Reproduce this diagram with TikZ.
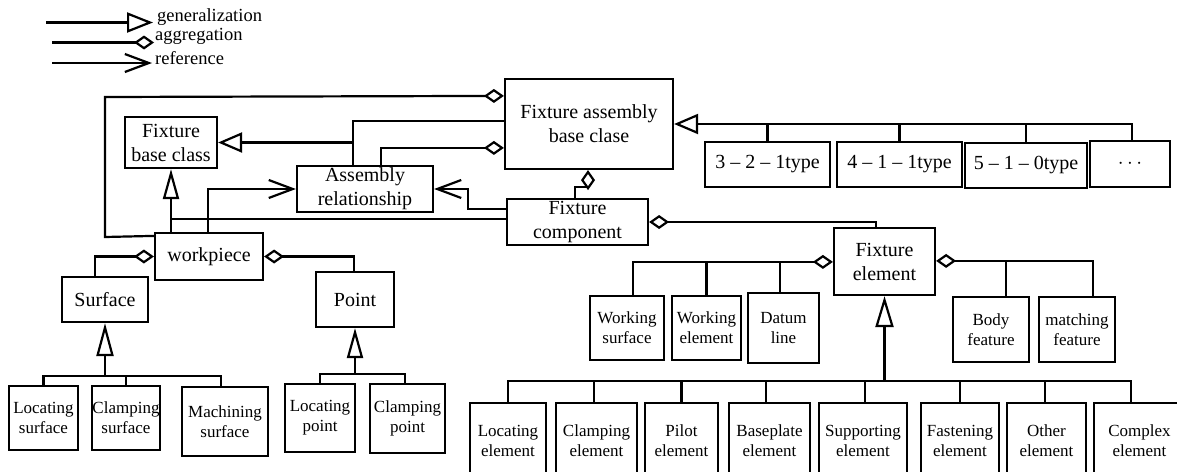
\documentclass[tikz,border=0pt]{standalone}
\usepackage{fontspec}
\setmainfont{Liberation Serif}
\usetikzlibrary{arrows.meta}
\begin{document}
\begin{tikzpicture}[x=1pt,y=-1pt,
  box/.style={draw, line width=2.2pt, inner sep=0pt, align=center},
  big/.style={font=\fontsize{20}{24}\selectfont},
  small/.style={font=\fontsize{17}{20}\selectfont},
  legend/.style={font=\fontsize{18.5}{22}\selectfont, inner sep=0pt},
  conn/.style={line width=2.2pt},
  gen/.style 2 args={conn,-{Triangle[open,fill=white,length=#1,width=#2]}},
  agg/.style={conn,-{Diamond[open,fill=white,length=20pt,width=14pt]}},
  ref/.style={conn,-{Straight Barb[length=24pt,width=18pt]}}]
\useasboundingbox (0,0) rectangle (1177,471);

% legend
\coordinate (g1) at (46,22.5);  \coordinate (g2) at (153,22.5);
\coordinate (a1) at (52,42.5);  \coordinate (a2) at (154,42.5);
\coordinate (r1) at (52,63);    \coordinate (r2) at (152,63);
\draw[gen={26pt}{20pt}] (g1) -- (g2);
\draw[agg] (a1) -- (a2);
\draw[ref] (r1) -- (r2);
\node[legend, anchor=base west] (lg) at (157,21) {generalization};
\node[legend, anchor=base west] (la) at (155,40.5) {aggregation};
\node[legend, anchor=base west] (lr) at (155,64) {reference};

% main nodes
\node[box,big,minimum width=168,minimum height=90] (fabc) at (589,124) {Fixture assembly\\base clase};
\node[box,big,minimum width=92,minimum height=51] (fbc) at (171,142.5) {Fixture\\base class};
\node[box,big,minimum width=136,minimum height=46] (ar) at (365,189) {Assembly\\relationship};
\node[box,big,minimum width=141,minimum height=46] (fc) at (577.5,222) {Fixture\\component};
\node[box,big,minimum width=108,minimum height=47] (wp) at (209,256.5) {workpiece};
\node[box,big,minimum width=86,minimum height=45] (sf) at (105,299.5) {Surface};
\node[box,big,minimum width=78,minimum height=55] (pt) at (355,299.5) {Point};
\node[box,big,minimum width=101,minimum height=67] (fe) at (884.5,261.5) {Fixture\\element};

% type boxes
\node[box,big,minimum width=125,minimum height=45] (t321) at (767.5,164.5) {3 – 2 – 1type};
\node[box,big,minimum width=125,minimum height=45] (t411) at (899.5,164.5) {4 – 1 – 1type};
\node[box,big,minimum width=122,minimum height=45] (t510) at (1026,165.5) {5 – 1 – 0type};
\node[box,big,minimum width=80,minimum height=46] (tdots) at (1130,164) {$\cdots$};

% workpiece parts
\node[box,small,minimum width=69,minimum height=64] (ls) at (43.5,418) {Locating\\surface};
\node[box,small,minimum width=68,minimum height=64] (cs) at (126,418) {Clamping\\surface};
\node[box,small,minimum width=86,minimum height=69] (ms) at (225,421.5) {Machining\\surface};
\node[box,small,minimum width=70,minimum height=68] (lp) at (320,418) {Locating\\point};
\node[box,small,minimum width=75,minimum height=69] (cp) at (407.5,418.5) {Clamping\\point};

% fixture element parts
\node[box,small,minimum width=74,minimum height=64] (ws) at (627,328) {Working\\surface};
\node[box,small,minimum width=69,minimum height=64] (we) at (706.5,328) {Working\\element};
\node[box,small,minimum width=71,minimum height=70] (dl) at (783.5,328) {Datum\\line};
\node[box,small,minimum width=76,minimum height=65] (bf) at (991,329.5) {Body\\feature};
\node[box,small,minimum width=76,minimum height=65] (mf) at (1077,329.5) {matching\\feature};

% element kinds (bottom row)
\node[box,small,minimum width=76,minimum height=75] (le) at (508,440.5) {Locating\\element};
\node[box,small,minimum width=81,minimum height=75] (ce) at (596.5,440.5) {Clamping\\element};
\node[box,small,minimum width=73,minimum height=75] (pe) at (681.5,440.5) {Pilot\\element};
\node[box,small,minimum width=81,minimum height=75] (be) at (769.5,440.5) {Baseplate\\element};
\node[box,small,minimum width=88,minimum height=75] (se) at (863,440.5) {Supporting\\element};
\node[box,small,minimum width=78,minimum height=75] (fse) at (960,440.5) {Fastening\\element};
\node[box,small,minimum width=79,minimum height=75] (oe) at (1046.5,440.5) {Other\\element};
\node[box,small,minimum width=91,minimum height=75] (cxe) at (1139.5,440.5) {Complex\\element};

% ---- connectors ----
% outer aggregation workpiece -> fixture assembly
\draw[agg] ([yshift=-4pt]wp.north west) -- (105,237) -- (105,97) -- ([yshift=-18pt]fabc.north west);
% generalization fixture assembly / assembly relationship -> fixture base class
\coordinate (arj) at (353,142.5);
\draw[gen={24pt}{20pt}] ([yshift=-43pt]fabc.north west) -| (arj) -- (fbc.east);
\draw[conn] ([xshift=-12pt]ar.north) -- (arj);
% aggregation assembly relationship -> fixture assembly
\draw[agg] ([xshift=16pt]ar.north) |- ([yshift=-70pt]fabc.north west);
% aggregation fixture component -> fixture assembly
\draw[agg] ([xshift=-2.5pt]fc.north) |- (588,187) -- ([xshift=-1pt]fabc.south);
% aggregation fixture element -> fixture component
\draw[agg] ([xshift=-8.5pt]fe.north) |- (fc.east);
% generalization fixture component / workpiece -> fixture base class
\coordinate (fcg) at ([yshift=-21pt]fc.north west);
\draw[gen={30pt}{16pt}] (fcg) -| (fbc.south);
\draw[conn] ([xshift=-38pt]wp.north) -- ([xshift=-38pt]wp.north |- fcg);
% references to assembly relationship
\draw[ref] ([xshift=-1pt]wp.north) |- (ar.west);
\draw[ref] ([yshift=-11pt]fc.north west) -| (468,189) -- (ar.east);
% workpiece aggregations
\draw[agg] ([xshift=-10pt]sf.north) |- (wp.west);
\draw[agg] ([xshift=-1pt]pt.north) |- (wp.east);
% surface tree
\coordinate (sbus) at (105,376);
\draw[gen={33pt}{17pt}] (sbus) -- (sf.south);
\draw[conn] (ls.north) |- (sbus);
\draw[conn] ([xshift=-4pt]ms.north) |- (sbus);
\draw[conn] (cs.north) -- (cs.north |- sbus);
% point tree
\coordinate (pbus) at (355,374);
\draw[gen={30pt}{16pt}] (pbus) -- (pt.south);
\draw[conn] (lp.north) |- (pbus);
\draw[conn] ([xshift=-2.5pt]cp.north) |- (pbus);
% types tree
\draw[gen={24pt}{20pt}] ([xshift=2pt]tdots.north) |- (fabc.east);
\draw[conn] (t321.north) -- (t321.north |- fabc.east);
\draw[conn] (t411.north) -- (t411.north |- fabc.east);
\draw[conn] (t510.north) -- (t510.north |- fabc.east);
% fixture element aggregations (left)
\coordinate (feL) at ([yshift=-35pt]fe.north west);
\draw[agg] ([xshift=6pt]ws.north) |- (feL);
\draw[conn] (we.north) -- (we.north |- feL);
\draw[conn] ([xshift=-3.5pt]dl.north) -- ([xshift=-3.5pt]dl.north |- feL);
% fixture element aggregations (right)
\coordinate (feR) at ([yshift=-34pt]fe.north east);
\draw[agg] ([xshift=16pt]mf.north) |- (feR);
\draw[conn] ([xshift=15pt]bf.north) -- ([xshift=15pt]bf.north |- feR);
% element kinds tree
\coordinate (ebus) at (884.5,381);
\draw[gen={31pt}{18pt}] (ebus) -- (fe.south);
\draw[conn] (le.north) |- (ebus);
\draw[conn] ([xshift=-8.5pt]cxe.north) |- (ebus);
\draw[conn] ([xshift=-2.5pt]ce.north) -- ([xshift=-2.5pt]ce.north |- ebus);
\draw[conn] (pe.north) -- (pe.north |- ebus);
\draw[conn] ([xshift=-3.5pt]be.north) -- ([xshift=-3.5pt]be.north |- ebus);
\draw[conn] ([xshift=2pt]se.north) -- ([xshift=2pt]se.north |- ebus);
\draw[conn] (fse.north) -- (fse.north |- ebus);
\draw[conn] ([xshift=-1.5pt]oe.north) -- ([xshift=-1.5pt]oe.north |- ebus);
\end{tikzpicture}
\end{document}
